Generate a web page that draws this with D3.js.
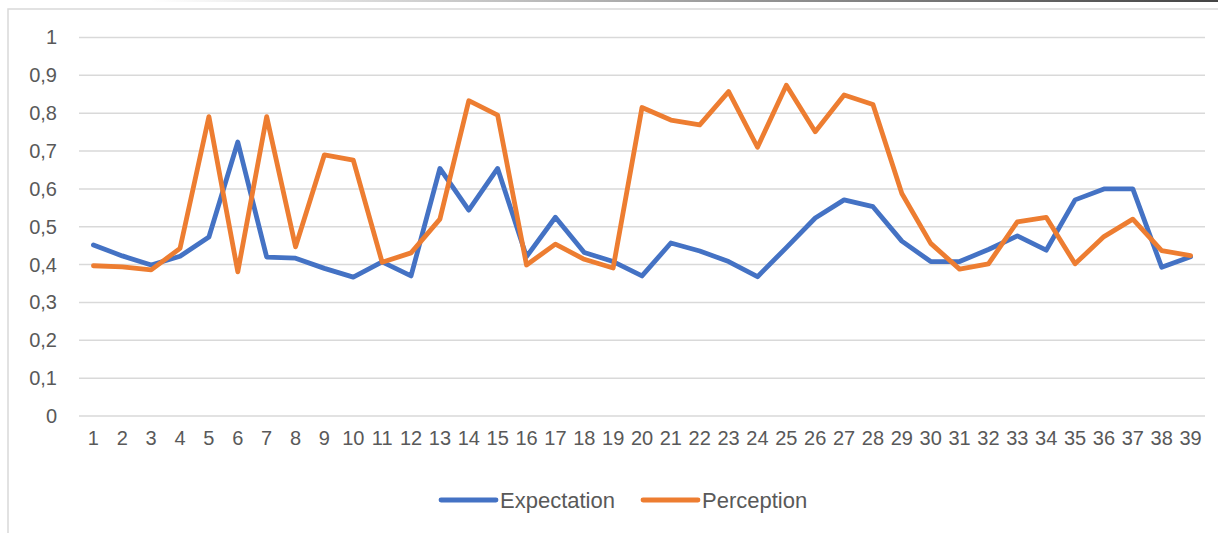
<!DOCTYPE html>
<html>
<head>
<meta charset="utf-8">
<script src="https://cdn.jsdelivr.net/npm/d3@7"></script>
<style>
  body { margin: 0; background: #fff; }
  svg { display: block; font-family: "Liberation Sans", Arial, sans-serif; }
</style>
</head>
<body>
<div id="chart"></div>
<script>
// DATA
var categories = d3.range(1, 40).map(String);
var expectation = [0.452, 0.423, 0.399, 0.422, 0.473, 0.724, 0.42, 0.417, 0.39, 0.367,
    0.407, 0.37, 0.654, 0.544, 0.654, 0.421, 0.525, 0.432, 0.408, 0.37,
    0.457, 0.436, 0.408, 0.368, 0.445, 0.523, 0.571, 0.553, 0.462, 0.408,
    0.408, 0.44, 0.476, 0.438, 0.571, 0.6, 0.6, 0.393, 0.421];
var perception = [0.397, 0.394, 0.386, 0.443, 0.791, 0.381, 0.791, 0.447, 0.69, 0.676,
    0.406, 0.431, 0.52, 0.833, 0.795, 0.399, 0.454, 0.414, 0.391, 0.815,
    0.782, 0.769, 0.857, 0.71, 0.874, 0.751, 0.848, 0.823, 0.588, 0.456,
    0.388, 0.402, 0.513, 0.525, 0.402, 0.474, 0.52, 0.437, 0.424];
var yTicks = [0, 0.1, 0.2, 0.3, 0.4, 0.5, 0.6, 0.7, 0.8, 0.9, 1];
var series = [
    { name: "Expectation", values: expectation, color: "#4472C4" },
    { name: "Perception", values: perception, color: "#ED7D31" }
];

// SETUP
const width = 1218, height = 533;
const svg = d3.select('#chart')
    .append('svg')
    .attr('width', width)
    .attr('height', height);

// chart frame + top shadow line
var grad = svg.append("defs").append("linearGradient").attr("id", "topfade");
grad.append("stop").attr("offset", "0%").attr("stop-color", "#fff");
grad.append("stop").attr("offset", "100%").attr("stop-color", "#444");
svg.append("rect").attr("x", 150).attr("y", 0).attr("width", width - 150).attr("height", 2)
    .attr("fill", "url(#topfade)");
svg.append("rect")
    .attr("x", 8).attr("y", 9)
    .attr("width", width + 20).attr("height", height + 20)
    .attr("fill", "none").attr("stroke", "#d9d9d9").attr("stroke-width", 1.5);

var xScale = d3.scaleBand()
    .domain(categories)
    .range([79, 1205]);

var yScale = d3.scaleLinear()
    .domain([0, 1])
    .range([416, 37.5]);

// gridlines
svg.append("g")
    .selectAll("line")
    .data(yTicks)
    .enter()
    .append("line")
    .attr("x1", 79).attr("x2", 1205)
    .attr("y1", d => yScale(d)).attr("y2", d => yScale(d))
    .attr("stroke", "#d9d9d9").attr("stroke-width", 1.5);

// y axis labels (comma decimal)
var yAxis = d3.axisLeft(yScale)
    .tickValues(yTicks)
    .tickSize(0)
    .tickPadding(0)
    .tickFormat(d => String(+d.toFixed(1)).replace(".", ","));
svg.append("g")
    .attr("transform", "translate(57,0)")
    .call(yAxis)
    .call(g => g.select(".domain").remove())
    .selectAll("text")
    .attr("font-size", 20)
    .attr("font-family", "Liberation Sans, Arial, sans-serif")
    .attr("fill", "#595959");

// x axis labels
var xAxis = d3.axisBottom(xScale).tickSize(0).tickPadding(0);
svg.append("g")
    .attr("transform", "translate(0,431)")
    .call(xAxis)
    .call(g => g.select(".domain").remove())
    .selectAll("text")
    .attr("font-size", 20)
    .attr("font-family", "Liberation Sans, Arial, sans-serif")
    .attr("fill", "#595959");

// lines
var line = d3.line()
    .x((d, i) => xScale(categories[i]) + xScale.bandwidth() / 2)
    .y(d => yScale(d));

svg.selectAll("path.series")
    .data(series)
    .enter()
    .append("path")
    .attr("class", "series")
    .attr("d", d => line(d.values))
    .attr("fill", "none")
    .attr("stroke", d => d.color)
    .attr("stroke-width", 4.8)
    .attr("stroke-linejoin", "round")
    .attr("stroke-linecap", "round");

// legend
var legendX = [441, 643];
var legend = svg.selectAll("g.legend")
    .data(series)
    .enter()
    .append("g")
    .attr("class", "legend")
    .attr("transform", (d, i) => "translate(" + legendX[i] + ",500)");
legend.append("line")
    .attr("x1", 0).attr("x2", 55)
    .attr("stroke", d => d.color)
    .attr("stroke-width", 4.8)
    .attr("stroke-linecap", "round");
legend.append("text")
    .attr("x", 59)
    .attr("dy", "0.35em")
    .attr("font-size", 22)
    .attr("fill", "#595959")
    .text(d => d.name);
</script>
</body>
</html>
